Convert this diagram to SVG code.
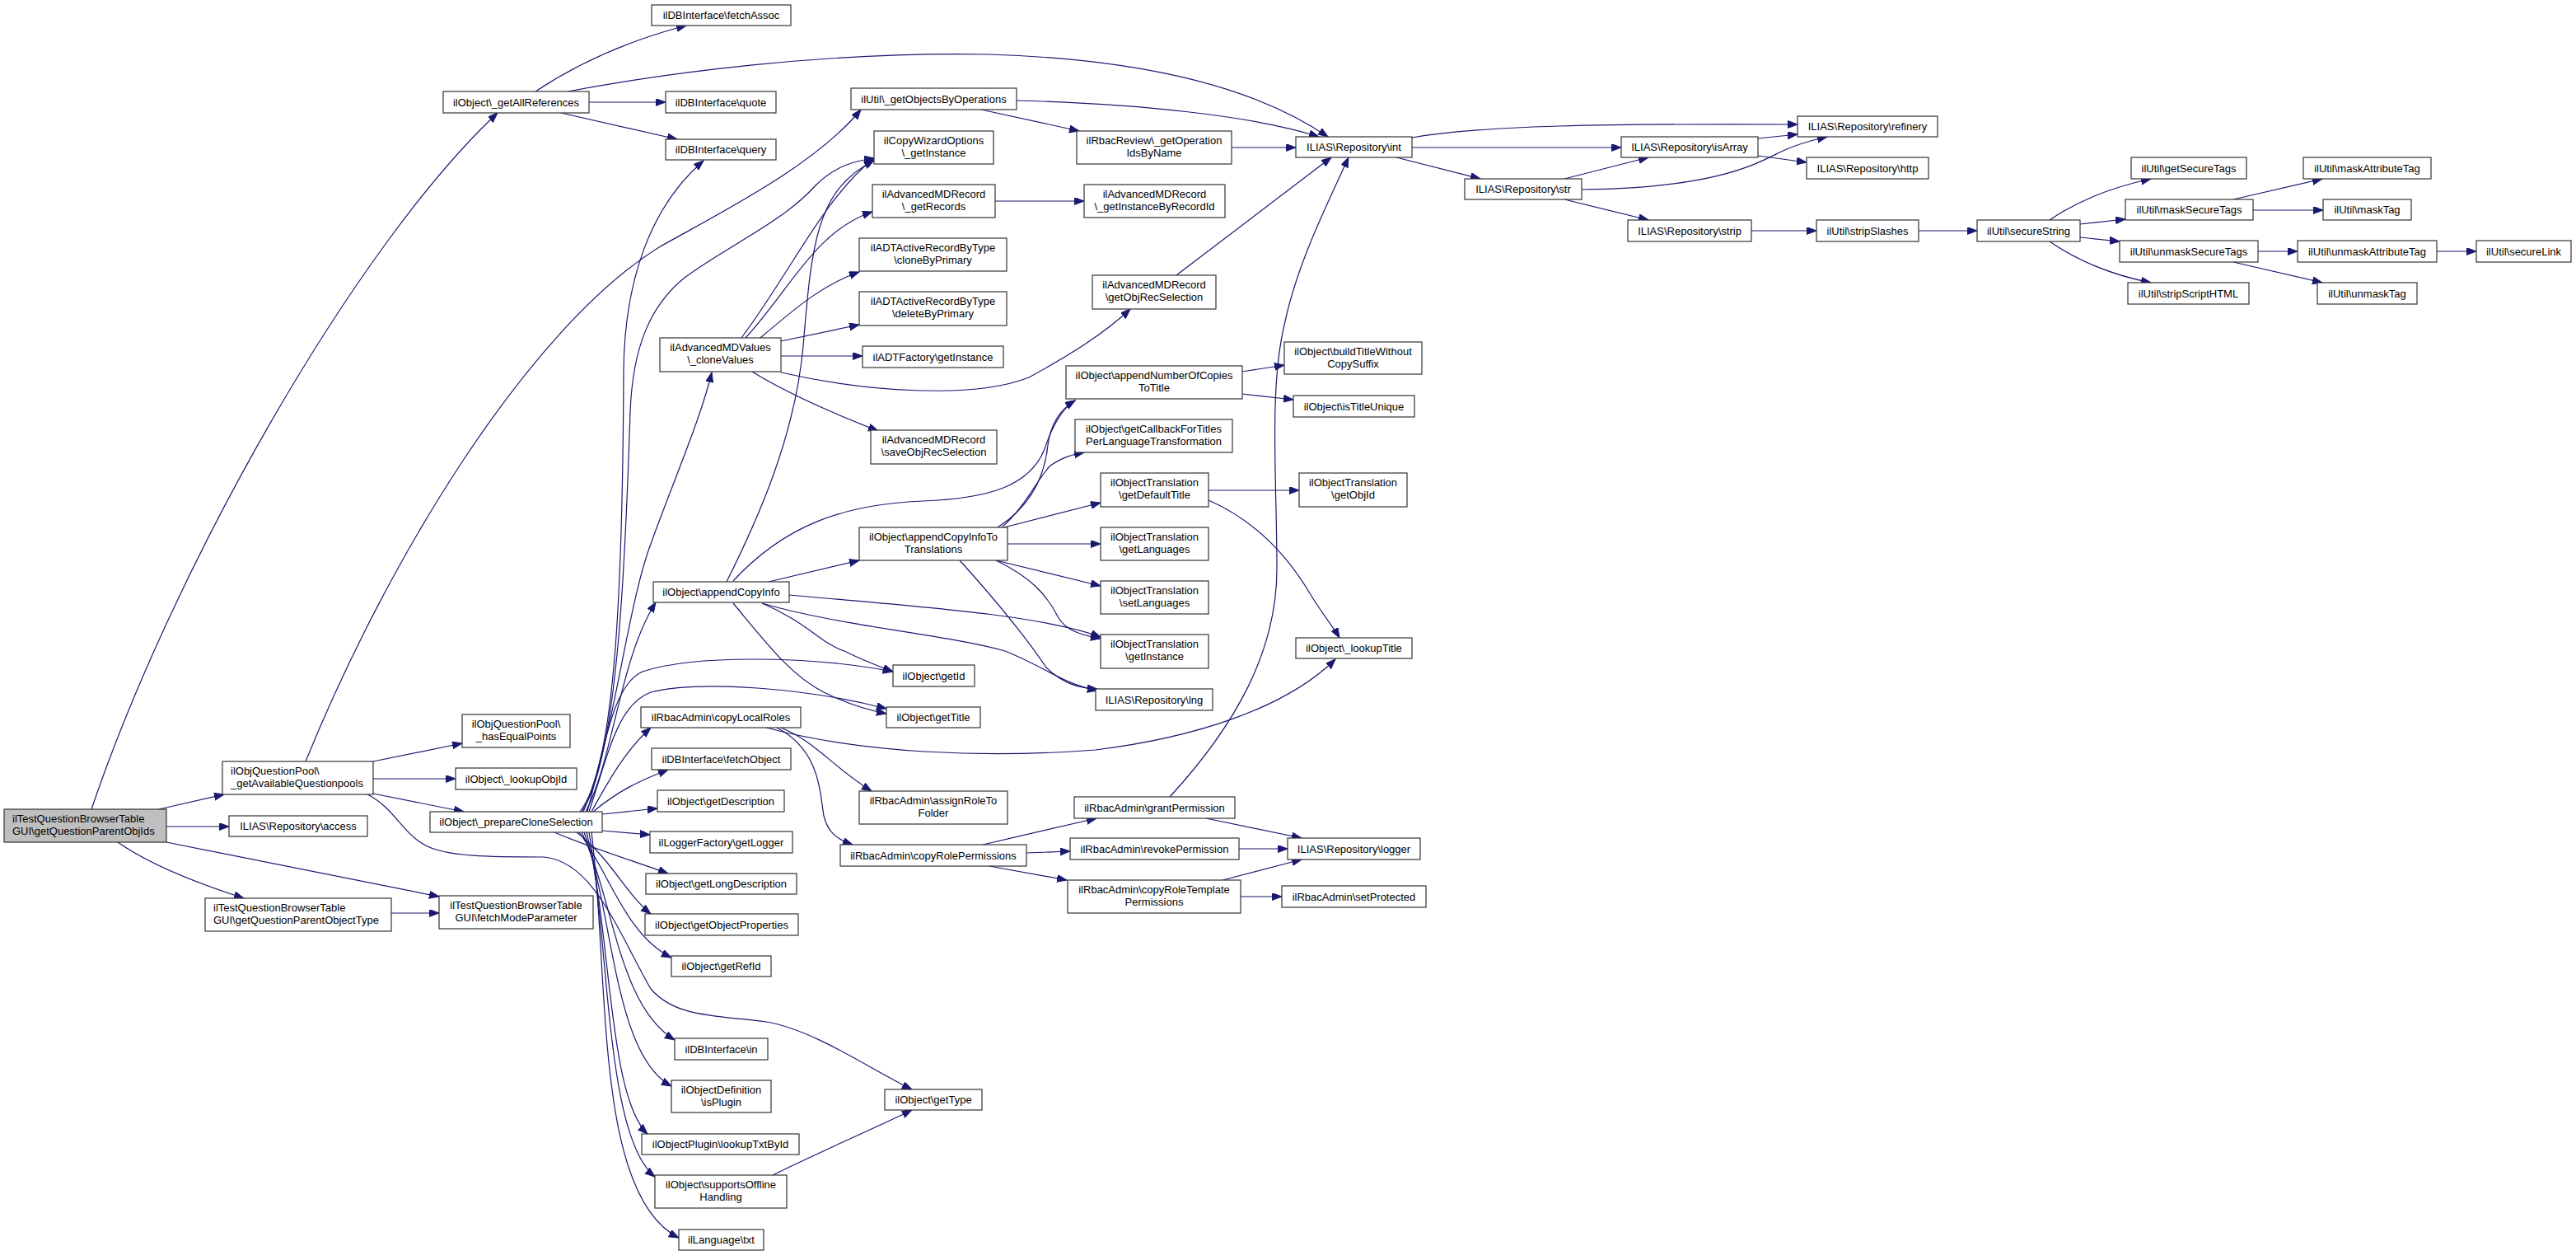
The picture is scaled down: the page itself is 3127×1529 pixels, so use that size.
<svg xmlns="http://www.w3.org/2000/svg" width="3127" height="1529" viewBox="0 0 3127 1529">
<style>
.n rect{fill:#ffffff;stroke:#333333;stroke-width:1.2}
.root rect{fill:#bfbfbf}
text{font-family:"Liberation Sans",Arial,Helvetica,sans-serif;font-size:13px;fill:#000;text-anchor:middle}
.l text{text-anchor:start}
.e path{fill:none;stroke:#191970;stroke-width:1.2;marker-end:url(#a)}
</style>
<defs>
<marker id="a" markerUnits="userSpaceOnUse" markerWidth="13" markerHeight="10" refX="12" refY="4.5" orient="auto">
<path d="M0,0 L12,4.5 L0,9 z" fill="#191970" stroke="#191970" stroke-width="1"/>
</marker>
</defs>
<rect width="3127" height="1529" fill="#ffffff"/>
<g class="e" id="edges">
<path d="M111,982 C210,690 430,300 604,137"/>
<path d="M193,982 L272,964"/>
<path d="M202,1003 L278,1003"/>
<path d="M143,1022 C180,1048 240,1072 296,1090"/>
<path d="M202,1022 L533,1088"/>
<path d="M475,1108 L533,1108"/>
<path d="M453,924 L561,902"/>
<path d="M453,945 L553,945"/>
<path d="M453,963 L563,985"/>
<path d="M371,924 C470,680 640,400 800,300 C880,255 990,200 1045,133"/>
<path d="M446,964 C478,980 488,1010 515,1025 C540,1040 600,1040 660,1040 C720,1045 750,1130 790,1200 C820,1235 870,1232 930,1240 C990,1250 1060,1300 1107,1322"/>
<path d="M650,111 C700,78 760,50 833,31"/>
<path d="M689,111 C800,90 1000,62 1200,66 C1400,72 1530,110 1612,166"/>
<path d="M715,124 L808,124"/>
<path d="M681,137 L822,169"/>
<path d="M1234,122 C1380,126 1520,140 1601,166"/>
<path d="M1191,133 L1310,159"/>
<path d="M1495,179 L1573,179"/>
<path d="M1208,244 L1316,244"/>
<path d="M1428,334 L1616,191"/>
<path d="M1714,167 C1800,152 1950,150 2182,151"/>
<path d="M1714,179 L1968,179"/>
<path d="M1695,191 L1797,217"/>
<path d="M1899,217 L2001,191"/>
<path d="M1920,230 C2080,228 2130,200 2160,185 C2180,175 2200,170 2218,166"/>
<path d="M1899,242 L2001,267"/>
<path d="M2134,168 L2182,163"/>
<path d="M2134,189 L2193,197"/>
<path d="M2126,280 L2205,280"/>
<path d="M2329,280 L2400,280"/>
<path d="M2488,267 C2520,245 2560,228 2611,217"/>
<path d="M2525,272 L2580,266"/>
<path d="M2525,288 L2573,293"/>
<path d="M2488,293 C2520,315 2560,333 2611,343"/>
<path d="M2711,242 L2819,217"/>
<path d="M2735,255 L2820,255"/>
<path d="M2741,305 L2789,305"/>
<path d="M2958,305 L3006,305"/>
<path d="M2711,318 L2819,343"/>
<path d="M900,410 C960,330 1000,240 1061,192"/>
<path d="M905,410 C960,350 990,280 1059,257"/>
<path d="M923,410 C970,370 1000,345 1043,330"/>
<path d="M948,414 L1043,394"/>
<path d="M948,432 L1047,432"/>
<path d="M948,452 C1050,475 1180,485 1249,458 C1300,430 1340,405 1372,375"/>
<path d="M913,451 C960,480 1020,505 1066,523"/>
<path d="M882,706 C920,630 965,530 975,420 C985,300 990,230 1061,195"/>
<path d="M890,705 C950,640 1020,612 1120,608 C1200,605 1250,590 1268,545 C1278,515 1290,495 1305,486"/>
<path d="M933,706 L1043,680"/>
<path d="M958,722 C1100,735 1260,745 1336,773"/>
<path d="M925,732 C1020,760 1150,770 1220,790 C1270,810 1290,830 1332,838"/>
<path d="M925,732 C980,755 995,780 1025,790 C1045,800 1065,808 1084,815"/>
<path d="M890,732 C930,780 960,820 1000,840 C1030,855 1055,862 1076,866"/>
<path d="M1211,640 C1250,615 1268,580 1272,540 C1276,510 1290,495 1305,486"/>
<path d="M1216,640 C1245,615 1260,580 1275,565 C1290,555 1300,552 1316,549"/>
<path d="M1219,640 L1336,610"/>
<path d="M1223,660 L1336,660"/>
<path d="M1209,680 L1336,711"/>
<path d="M1209,680 C1250,700 1270,720 1285,750 C1295,765 1310,770 1336,775"/>
<path d="M1165,680 C1210,730 1250,780 1270,810 C1290,830 1310,835 1332,836"/>
<path d="M1467,595 L1577,595"/>
<path d="M1467,607 C1520,630 1560,670 1590,720 C1605,745 1618,760 1626,774"/>
<path d="M1508,451 L1559,443"/>
<path d="M1508,478 L1570,485"/>
<path d="M930,883 C1050,915 1200,920 1330,910 C1450,895 1560,860 1621,800"/>
<path d="M948,883 C990,900 1010,930 1058,960"/>
<path d="M943,883 C995,910 995,960 1000,990 C1005,1010 1015,1018 1035,1025"/>
<path d="M1193,1025 L1331,993"/>
<path d="M1246,1035 L1299,1033"/>
<path d="M1201,1051 L1295,1068"/>
<path d="M1420,967 C1500,880 1550,790 1550,690 C1550,580 1540,470 1560,390 C1575,320 1610,250 1637,191"/>
<path d="M1464,993 L1580,1017"/>
<path d="M1504,1030 L1563,1030"/>
<path d="M1484,1068 L1580,1043"/>
<path d="M1506,1088 L1556,1088"/>
<path d="M938,1426 C990,1400 1060,1370 1107,1347"/>
<path d="M704,985 C748,930 756,700 757,450 C758,340 790,250 854,195"/>
<path d="M706,985 C752,920 760,650 765,500 C768,420 790,370 831,337 C880,300 950,270 990,225 C1015,200 1040,195 1061,192"/>
<path d="M708,985 C745,900 760,740 790,660 C815,590 850,510 864,452"/>
<path d="M711,985 C745,920 752,800 796,731"/>
<path d="M713,985 C735,900 745,830 780,815 C840,795 980,795 1084,815"/>
<path d="M715,985 C740,910 750,855 790,840 C850,825 980,835 1076,860"/>
<path d="M718,985 C740,945 760,910 790,883"/>
<path d="M720,985 C750,960 775,948 811,934"/>
<path d="M731,988 L798,981"/>
<path d="M731,1008 L789,1013"/>
<path d="M673,1010 C720,1030 770,1045 811,1060"/>
<path d="M700,1010 C740,1040 760,1085 790,1109"/>
<path d="M703,1010 C740,1060 760,1135 815,1162"/>
<path d="M706,1010 C745,1090 750,1220 819,1262"/>
<path d="M709,1010 C745,1110 745,1280 815,1318"/>
<path d="M712,1010 C742,1130 738,1330 786,1376"/>
<path d="M715,1010 C740,1150 735,1380 795,1428"/>
<path d="M718,1010 C740,1180 720,1450 824,1502"/>
</g>
<g id="root" class="n root l"><rect x="5" y="982" width="197" height="40"/><text x="15" y="998">ilTestQuestionBrowserTable</text><text x="15" y="1012.5">GUI\getQuestionParentObjIds</text></g>
<g id="n1" class="n"><rect x="538" y="111" width="177" height="26"/><text x="626.5" y="128.5">ilObject\_getAllReferences</text></g>
<g id="n2" class="n"><rect x="791" y="6" width="169" height="25"/><text x="875.5" y="23">ilDBInterface\fetchAssoc</text></g>
<g id="n3" class="n"><rect x="808" y="111" width="134" height="26"/><text x="875" y="128.5">ilDBInterface\quote</text></g>
<g id="n4" class="n"><rect x="808" y="169" width="134" height="25"/><text x="875" y="186">ilDBInterface\query</text></g>
<g id="n5" class="n"><rect x="1033" y="107" width="201" height="26"/><text x="1133.5" y="124.5">ilUtil\_getObjectsByOperations</text></g>
<g id="n6" class="n"><rect x="1061" y="159" width="145" height="40"/><text x="1133.5" y="175">ilCopyWizardOptions</text><text x="1133.5" y="189.5">\_getInstance</text></g>
<g id="n7" class="n"><rect x="1307" y="159" width="188" height="40"/><text x="1401" y="175">ilRbacReview\_getOperation</text><text x="1401" y="189.5">IdsByName</text></g>
<g id="n8" class="n"><rect x="1059" y="224" width="149" height="40"/><text x="1133.5" y="240">ilAdvancedMDRecord</text><text x="1133.5" y="254.5">\_getRecords</text></g>
<g id="n9" class="n"><rect x="1316" y="224" width="171" height="40"/><text x="1401.5" y="240">ilAdvancedMDRecord</text><text x="1401.5" y="254.5">\_getInstanceByRecordId</text></g>
<g id="n10" class="n"><rect x="1043" y="289" width="179" height="40"/><text x="1132.5" y="305">ilADTActiveRecordByType</text><text x="1132.5" y="319.5">\cloneByPrimary</text></g>
<g id="n11" class="n"><rect x="1043" y="354" width="179" height="41"/><text x="1132.5" y="370">ilADTActiveRecordByType</text><text x="1132.5" y="384.5">\deleteByPrimary</text></g>
<g id="n12" class="n"><rect x="801" y="410" width="147" height="41"/><text x="874.5" y="426">ilAdvancedMDValues</text><text x="874.5" y="440.5">\_cloneValues</text></g>
<g id="n13" class="n"><rect x="1047" y="420" width="171" height="26"/><text x="1132.5" y="437.5">ilADTFactory\getInstance</text></g>
<g id="n14" class="n"><rect x="1326" y="334" width="150" height="41"/><text x="1401" y="350">ilAdvancedMDRecord</text><text x="1401" y="364.5">\getObjRecSelection</text></g>
<g id="n15" class="n"><rect x="1294" y="444" width="214" height="40"/><text x="1401" y="460">ilObject\appendNumberOfCopies</text><text x="1401" y="474.5">ToTitle</text></g>
<g id="n16" class="n"><rect x="1573" y="166" width="141" height="25"/><text x="1643.5" y="183">ILIAS\Repository\int</text></g>
<g id="n17" class="n"><rect x="2182" y="141" width="170" height="25"/><text x="2267" y="158">ILIAS\Repository\refinery</text></g>
<g id="n18" class="n"><rect x="1968" y="166" width="166" height="25"/><text x="2051" y="183">ILIAS\Repository\isArray</text></g>
<g id="n19" class="n"><rect x="2193" y="191" width="148" height="26"/><text x="2267" y="208.5">ILIAS\Repository\http</text></g>
<g id="n20" class="n"><rect x="1778" y="217" width="142" height="25"/><text x="1849" y="234">ILIAS\Repository\str</text></g>
<g id="n21" class="n"><rect x="1976" y="267" width="150" height="26"/><text x="2051" y="284.5">ILIAS\Repository\strip</text></g>
<g id="n22" class="n"><rect x="2205" y="267" width="124" height="26"/><text x="2267" y="284.5">ilUtil\stripSlashes</text></g>
<g id="n23" class="n"><rect x="1559" y="415" width="167" height="39"/><text x="1642.5" y="431">ilObject\buildTitleWithout</text><text x="1642.5" y="445.5">CopySuffix</text></g>
<g id="n24" class="n"><rect x="1570" y="480" width="147" height="26"/><text x="1643.5" y="497.5">ilObject\isTitleUnique</text></g>
<g id="n25" class="n"><rect x="2400" y="267" width="125" height="26"/><text x="2462.5" y="284.5">ilUtil\secureString</text></g>
<g id="n26" class="n"><rect x="2587" y="191" width="140" height="26"/><text x="2657" y="208.5">ilUtil\getSecureTags</text></g>
<g id="n27" class="n"><rect x="2580" y="242" width="155" height="25"/><text x="2657.5" y="259">ilUtil\maskSecureTags</text></g>
<g id="n28" class="n"><rect x="2573" y="292" width="168" height="26"/><text x="2657" y="309.5">ilUtil\unmaskSecureTags</text></g>
<g id="n29" class="n"><rect x="2583" y="343" width="147" height="26"/><text x="2656.5" y="360.5">ilUtil\stripScriptHTML</text></g>
<g id="n30" class="n"><rect x="2796" y="191" width="155" height="26"/><text x="2873.5" y="208.5">ilUtil\maskAttributeTag</text></g>
<g id="n31" class="n"><rect x="2820" y="242" width="107" height="25"/><text x="2873.5" y="259">ilUtil\maskTag</text></g>
<g id="n32" class="n"><rect x="2789" y="292" width="169" height="26"/><text x="2873.5" y="309.5">ilUtil\unmaskAttributeTag</text></g>
<g id="n33" class="n"><rect x="3006" y="292" width="115" height="26"/><text x="3063.5" y="309.5">ilUtil\secureLink</text></g>
<g id="n34" class="n"><rect x="2813" y="343" width="121" height="26"/><text x="2873.5" y="360.5">ilUtil\unmaskTag</text></g>
<g id="n35" class="n l"><rect x="270" y="924" width="183" height="40"/><text x="280" y="940">ilObjQuestionPool\</text><text x="280" y="954.5">_getAvailableQuestionpools</text></g>
<g id="n36" class="n"><rect x="561" y="867" width="131" height="40"/><text x="626.5" y="883">ilObjQuestionPool\</text><text x="626.5" y="897.5">_hasEqualPoints</text></g>
<g id="n37" class="n"><rect x="553" y="932" width="147" height="26"/><text x="626.5" y="949.5">ilObject\_lookupObjId</text></g>
<g id="n38" class="n"><rect x="522" y="985" width="209" height="25"/><text x="626.5" y="1002">ilObject\_prepareCloneSelection</text></g>
<g id="n39" class="n"><rect x="278" y="990" width="168" height="25"/><text x="362" y="1007">ILIAS\Repository\access</text></g>
<g id="n40" class="n"><rect x="1057" y="522" width="153" height="41"/><text x="1133.5" y="538">ilAdvancedMDRecord</text><text x="1133.5" y="552.5">\saveObjRecSelection</text></g>
<g id="n41" class="n"><rect x="1305" y="509" width="191" height="40"/><text x="1400.5" y="525">ilObject\getCallbackForTitles</text><text x="1400.5" y="539.5">PerLanguageTransformation</text></g>
<g id="n42" class="n"><rect x="1336" y="574" width="131" height="41"/><text x="1401.5" y="590">ilObjectTranslation</text><text x="1401.5" y="604.5">\getDefaultTitle</text></g>
<g id="n43" class="n"><rect x="1336" y="640" width="131" height="40"/><text x="1401.5" y="656">ilObjectTranslation</text><text x="1401.5" y="670.5">\getLanguages</text></g>
<g id="n44" class="n"><rect x="1336" y="705" width="131" height="40"/><text x="1401.5" y="721">ilObjectTranslation</text><text x="1401.5" y="735.5">\setLanguages</text></g>
<g id="n45" class="n"><rect x="1336" y="770" width="131" height="41"/><text x="1401.5" y="786">ilObjectTranslation</text><text x="1401.5" y="800.5">\getInstance</text></g>
<g id="n46" class="n"><rect x="1330" y="836" width="142" height="26"/><text x="1401" y="853.5">ILIAS\Repository\lng</text></g>
<g id="n47" class="n"><rect x="1043" y="640" width="180" height="40"/><text x="1133" y="656">ilObject\appendCopyInfoTo</text><text x="1133" y="670.5">Translations</text></g>
<g id="n48" class="n"><rect x="793" y="706" width="165" height="25"/><text x="875.5" y="723">ilObject\appendCopyInfo</text></g>
<g id="n49" class="n"><rect x="1084" y="807" width="99" height="26"/><text x="1133.5" y="824.5">ilObject\getId</text></g>
<g id="n50" class="n"><rect x="1076" y="858" width="114" height="25"/><text x="1133" y="875">ilObject\getTitle</text></g>
<g id="n51" class="n"><rect x="778" y="858" width="194" height="25"/><text x="875" y="875">ilRbacAdmin\copyLocalRoles</text></g>
<g id="n52" class="n"><rect x="791" y="908" width="169" height="26"/><text x="875.5" y="925.5">ilDBInterface\fetchObject</text></g>
<g id="n53" class="n"><rect x="798" y="959" width="154" height="26"/><text x="875" y="976.5">ilObject\getDescription</text></g>
<g id="n54" class="n"><rect x="1043" y="960" width="180" height="40"/><text x="1133" y="976">ilRbacAdmin\assignRoleTo</text><text x="1133" y="990.5">Folder</text></g>
<g id="n55" class="n"><rect x="1304" y="967" width="195" height="26"/><text x="1401.5" y="984.5">ilRbacAdmin\grantPermission</text></g>
<g id="n56" class="n"><rect x="1577" y="574" width="131" height="41"/><text x="1642.5" y="590">ilObjectTranslation</text><text x="1642.5" y="604.5">\getObjId</text></g>
<g id="n57" class="n"><rect x="1573" y="774" width="141" height="25"/><text x="1643.5" y="791">ilObject\_lookupTitle</text></g>
<g id="n58" class="n l"><rect x="249" y="1090" width="226" height="40"/><text x="259" y="1106">ilTestQuestionBrowserTable</text><text x="259" y="1120.5">GUI\getQuestionParentObjectType</text></g>
<g id="n59" class="n"><rect x="533" y="1087" width="187" height="40"/><text x="626.5" y="1103">ilTestQuestionBrowserTable</text><text x="626.5" y="1117.5">GUI\fetchModeParameter</text></g>
<g id="n60" class="n"><rect x="789" y="1009" width="173" height="26"/><text x="875.5" y="1026.5">ilLoggerFactory\getLogger</text></g>
<g id="n61" class="n"><rect x="784" y="1060" width="183" height="25"/><text x="875.5" y="1077">ilObject\getLongDescription</text></g>
<g id="n62" class="n"><rect x="783" y="1109" width="186" height="26"/><text x="876" y="1126.5">ilObject\getObjectProperties</text></g>
<g id="n63" class="n"><rect x="815" y="1160" width="121" height="25"/><text x="875.5" y="1177">ilObject\getRefId</text></g>
<g id="n64" class="n"><rect x="819" y="1260" width="113" height="26"/><text x="875.5" y="1277.5">ilDBInterface\in</text></g>
<g id="n65" class="n"><rect x="815" y="1311" width="121" height="39"/><text x="875.5" y="1327">ilObjectDefinition</text><text x="875.5" y="1341.5">\isPlugin</text></g>
<g id="n66" class="n"><rect x="779" y="1376" width="191" height="25"/><text x="874.5" y="1393">ilObjectPlugin\lookupTxtById</text></g>
<g id="n67" class="n"><rect x="795" y="1426" width="160" height="40"/><text x="875" y="1442">ilObject\supportsOffline</text><text x="875" y="1456.5">Handling</text></g>
<g id="n68" class="n"><rect x="824" y="1492" width="103" height="25"/><text x="875.5" y="1509">ilLanguage\txt</text></g>
<g id="n69" class="n"><rect x="1074" y="1322" width="118" height="25"/><text x="1133" y="1339">ilObject\getType</text></g>
<g id="n70" class="n"><rect x="1020" y="1025" width="226" height="26"/><text x="1133" y="1042.5">ilRbacAdmin\copyRolePermissions</text></g>
<g id="n71" class="n"><rect x="1299" y="1017" width="205" height="26"/><text x="1401.5" y="1034.5">ilRbacAdmin\revokePermission</text></g>
<g id="n72" class="n"><rect x="1296" y="1068" width="210" height="40"/><text x="1401" y="1084">ilRbacAdmin\copyRoleTemplate</text><text x="1401" y="1098.5">Permissions</text></g>
<g id="n73" class="n"><rect x="1563" y="1017" width="161" height="26"/><text x="1643.5" y="1034.5">ILIAS\Repository\logger</text></g>
<g id="n74" class="n"><rect x="1556" y="1075" width="175" height="26"/><text x="1643.5" y="1092.5">ilRbacAdmin\setProtected</text></g>
</svg>
